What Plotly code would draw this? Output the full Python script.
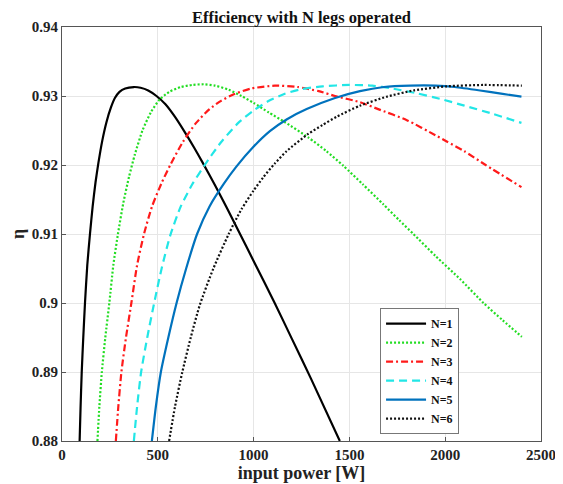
import plotly.graph_objects as go

# ---- data (input power [W], efficiency) ----
p_n1 = [92, 97, 103, 111, 120, 132, 146, 160, 175, 190, 210, 232, 255, 276, 300, 330, 375,
        410, 450, 493, 540, 589, 640, 690, 737, 800, 860, 920, 1000, 1110, 1200, 1300, 1450]
eta_n1 = [0.880, 0.885, 0.890, 0.895, 0.900, 0.9055, 0.910, 0.9140, 0.9175, 0.9203, 0.9235, 0.9262, 0.9283, 0.9297, 0.9306, 0.9311, 0.9313,
          0.9312, 0.9308, 0.9300, 0.9288, 0.9270, 0.9248, 0.9225, 0.9202, 0.9170, 0.9138, 0.9105, 0.9061, 0.9000, 0.8948, 0.8890, 0.8800]

p_n2 = [185, 195, 208, 226, 247, 268, 292, 320, 350, 380, 420, 465, 510, 560, 620, 680, 740,
        800, 870, 937, 1000, 1080, 1164, 1285, 1380, 1468, 1570, 1677, 1760, 1834, 1950, 2080, 2200, 2300, 2400]
eta_n2 = [0.880, 0.885, 0.890, 0.895, 0.900, 0.9055, 0.910, 0.9145, 0.9183, 0.9215, 0.9250, 0.9277, 0.9295, 0.9306, 0.9313, 0.9316, 0.9317,
          0.9315, 0.9309, 0.9300, 0.9290, 0.9276, 0.9262, 0.9240, 0.9220, 0.9199, 0.9172, 0.9143, 0.9120, 0.9100, 0.9068, 0.9034, 0.9000, 0.8975, 0.8951]

p_n3 = [281, 294, 310, 334, 362, 392, 428, 470, 520, 565, 630, 700, 770, 830, 900, 990, 1111,
        1230, 1340, 1425, 1555, 1650, 1800, 1950, 2008, 2100, 2211, 2398]
eta_n3 = [0.880, 0.885, 0.890, 0.895, 0.900, 0.9055, 0.910, 0.9140, 0.9174, 0.9200, 0.9233, 0.9261, 0.9281, 0.9293, 0.9303, 0.9311, 0.9315,
          0.9313, 0.9307, 0.9300, 0.9291, 0.9281, 0.9265, 0.9243, 0.9234, 0.9220, 0.9200, 0.9168]

p_n4 = [375, 392, 413, 445, 481, 520, 565, 620, 680, 745, 830, 920, 1000, 1080, 1160, 1250, 1360, 1500,
        1620, 1720, 1850, 1972, 2100, 2250, 2398]
eta_n4 = [0.880, 0.885, 0.890, 0.895, 0.900, 0.9050, 0.9098, 0.9140, 0.9172, 0.9200, 0.9233, 0.9261, 0.9279, 0.9293, 0.9303, 0.9310, 0.9314, 0.9316,
          0.9315, 0.9311, 0.9304, 0.9296, 0.9286, 0.9274, 0.9261]

p_n5 = [469, 490, 516, 555, 598, 648, 705, 770, 845, 911, 998, 1085, 1172, 1277, 1425, 1555, 1680, 1817,
        1950, 2050, 2182, 2300, 2398]
eta_n5 = [0.880, 0.885, 0.890, 0.895, 0.900, 0.9050, 0.910, 0.9140, 0.9173, 0.9198, 0.9226, 0.9249, 0.9266, 0.9281, 0.9297, 0.9307, 0.9313, 0.9315,
          0.9315, 0.9313, 0.9308, 0.9303, 0.9299]

p_n6 = [559, 590, 628, 672, 719, 790, 870, 937, 1000, 1050, 1110, 1172, 1285, 1360, 1434, 1555, 1695, 1834, 2008, 2200, 2400]
eta_n6 = [0.880, 0.885, 0.890, 0.895, 0.8997, 0.9050, 0.9100, 0.9136, 0.9163, 0.9182, 0.9202, 0.9220, 0.9245, 0.9258, 0.9270, 0.9286, 0.9299, 0.9308, 0.9314, 0.9316, 0.9315]

series_names = ["N=1", "N=2", "N=3", "N=4", "N=5", "N=6"]

x_ticks = [0, 500, 1000, 1500, 2000, 2500]
y_ticks = [0.88, 0.89, 0.90, 0.91, 0.92, 0.93, 0.94]
y_tick_labels = ["0.88", "0.89", "0.9", "0.91", "0.92", "0.93", "0.94"]

# ---- styling ----
styles = [
    dict(color="#000000", dash="solid"),
    dict(color="#22dd22", dash="2px,2px"),
    dict(color="#ff1a1a", dash="7px,3px,2px,3px"),
    dict(color="#22e6e6", dash="8px,5px"),
    dict(color="#0072bd", dash="solid"),
    dict(color="#111111", dash="2px,2px"),
]

data = [(p_n1, eta_n1), (p_n2, eta_n2), (p_n3, eta_n3),
        (p_n4, eta_n4), (p_n5, eta_n5), (p_n6, eta_n6)]

FONT = "Liberation Serif, Times New Roman, serif"

fig = go.Figure()
for (px, ey), name, st in zip(data, series_names, styles):
    fig.add_trace(go.Scatter(
        x=px, y=ey, mode="lines", name="<b>%s</b>" % name,
        line=dict(color=st["color"], dash=st["dash"], width=2.2,
                  shape="spline", smoothing=0.6),
    ))

# the page body adds an 8px offset, so the figure is 8px smaller than the window
fig.update_layout(
    width=555, height=476,
    margin=dict(l=54, r=22, t=19, b=43),
    paper_bgcolor="white", plot_bgcolor="white",
    font=dict(family=FONT, size=15, color="#222222"),
    title=dict(text="<b>Efficiency with N legs operated</b>",
               x=0.5, xref="paper", xanchor="center",
               y=1, yref="paper", yanchor="bottom", pad=dict(b=4),
               automargin=False,
               font=dict(family=FONT, size=16.5, color="#111111")),
    showlegend=True,
    legend=dict(x=0.664, y=0.321, xanchor="left", yanchor="top",
                bgcolor="white", bordercolor="#777777", borderwidth=1,
                font=dict(family=FONT, size=12, color="#111111"),
                tracegroupgap=0, itemwidth=40),
)

fig.update_xaxes(
    range=[0, 2500], tickvals=x_ticks,
    ticktext=["<b>%d</b>" % v for v in x_ticks],
    tickfont=dict(family=FONT, size=15, color="#222222"),
    showgrid=True, gridcolor="#e6e6e6", gridwidth=1,
    showline=True, linecolor="#555555", linewidth=1, mirror=True,
    ticks="inside", ticklen=4, tickcolor="#555555",
    zeroline=False, automargin=False,
    title=dict(text="<b>input power [W]</b>", standoff=2,
               font=dict(family=FONT, size=18, color="#222222")),
)
fig.update_yaxes(
    range=[0.88, 0.94], tickvals=y_ticks,
    ticktext=["<b>%s</b>" % t for t in y_tick_labels],
    tickfont=dict(family=FONT, size=15, color="#222222"),
    showgrid=True, gridcolor="#e6e6e6", gridwidth=1,
    showline=True, linecolor="#555555", linewidth=1, mirror=True,
    ticks="inside", ticklen=4, tickcolor="#555555",
    zeroline=False, automargin=False,
    title=dict(text="<b>η</b>", standoff=4,
               font=dict(family=FONT, size=18, color="#222222")),
)

fig.write_html("out.html")
